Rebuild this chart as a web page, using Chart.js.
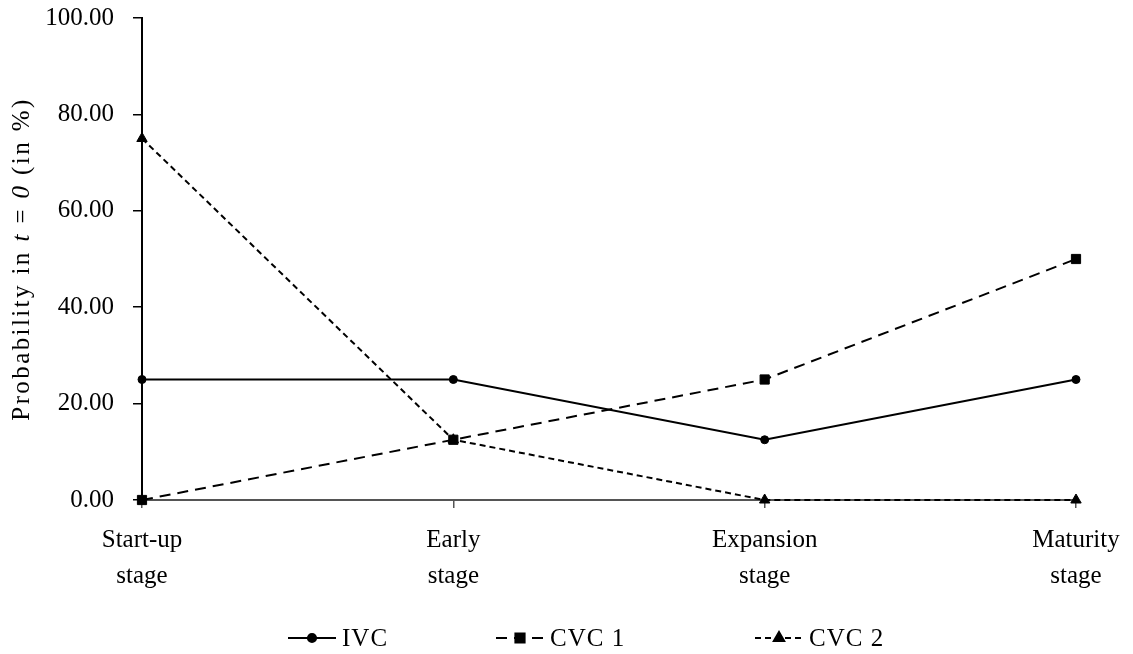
<!DOCTYPE html>
<html>
<head>
<meta charset="utf-8">
<script src="https://cdn.jsdelivr.net/npm/chart.js@4"></script>
<style>
html,body{margin:0;padding:0;background:#fff;}
#wrap{width:1133px;height:654px;}
</style>
</head>
<body>
<div id="wrap"><canvas id="c" width="1133" height="654"></canvas></div>
<script>
const categories = [["Start-up","stage"],["Early","stage"],["Expansion","stage"],["Maturity","stage"]];
const ivcValues = [25, 25, 12.5, 25];
const cvc1Values = [0, 12.5, 25, 50];
const cvc2Values = [75, 12.5, 0, 0];
const seriesNames = ["IVC", "CVC 1", "CVC 2"];
const yMin = 0, yMax = 100, yStep = 20;

const FONT = "'Liberation Serif', 'Times New Roman', serif";

const legendPlugin = {
  id: 'customLegend',
  afterDraw(chart) {
    const ctx = chart.ctx;
    const starts = [288, 496, 755];
    const y = 638;
    chart.data.datasets.forEach((ds, i) => {
      const x0 = starts[i];
      const x1 = x0 + 48;
      ctx.save();
      ctx.strokeStyle = ds.borderColor;
      ctx.lineWidth = ds.borderWidth;
      ctx.setLineDash(ds.borderDash || []);
      ctx.beginPath();
      ctx.moveTo(x0, y);
      ctx.lineTo(x1, y);
      ctx.stroke();
      ctx.setLineDash([]);
      Chart.helpers.drawPoint(ctx, {pointStyle: ds.pointStyle, radius: ds.pointRadius, rotation: 0, borderWidth: 1}, (x0 + x1) / 2, y);
      ctx.fillStyle = '#000';
      ctx.font = "25px " + FONT;
      try { ctx.letterSpacing = '1px'; } catch (e) {}
      ctx.textBaseline = 'middle';
      ctx.textAlign = 'left';
      ctx.fillText(ds.label, x1 + 6, y + 1);
      ctx.restore();
    });
  }
};

const yTitlePlugin = {
  id: 'yTitle',
  afterDraw(chart) {
    const ctx = chart.ctx;
    const area = chart.chartArea;
    const parts = [
      ["Probability in ", false],
      ["t", true],
      [" = ", false],
      ["0", true],
      [" (in %)", false]
    ];
    ctx.save();
    try { ctx.letterSpacing = '2.4px'; } catch (e) {}
    let total = 0;
    parts.forEach(p => {
      ctx.font = (p[1] ? "italic " : "") + "25px " + FONT;
      total += ctx.measureText(p[0]).width;
    });
    ctx.translate(22, (area.top + area.bottom) / 2);
    ctx.rotate(-Math.PI / 2);
    ctx.fillStyle = '#000';
    ctx.textBaseline = 'middle';
    ctx.textAlign = 'left';
    let x = -total / 2;
    parts.forEach(p => {
      ctx.font = (p[1] ? "italic " : "") + "25px " + FONT;
      ctx.fillText(p[0], x, 0);
      x += ctx.measureText(p[0]).width;
    });
    ctx.restore();
  }
};

new Chart(document.getElementById('c'), {
  type: 'line',
  data: {
    labels: categories,
    datasets: [
      {
        label: seriesNames[0], data: ivcValues,
        borderColor: '#000', backgroundColor: '#000', borderWidth: 2.2,
        pointStyle: 'circle', pointRadius: 4, pointBorderWidth: 1,
        pointBackgroundColor: '#000', pointBorderColor: '#000',
        tension: 0, clip: false
      },
      {
        label: seriesNames[1], data: cvc1Values,
        borderColor: '#000', backgroundColor: '#000', borderWidth: 2,
        borderDash: [11, 7],
        pointStyle: 'rect', pointRadius: 6.5, pointBorderWidth: 1,
        pointBackgroundColor: '#000', pointBorderColor: '#000',
        tension: 0, clip: false
      },
      {
        label: seriesNames[2], data: cvc2Values,
        borderColor: '#000', backgroundColor: '#000', borderWidth: 2,
        borderDash: [6, 4],
        pointStyle: 'triangle', pointRadius: 6, pointBorderWidth: 1,
        pointBackgroundColor: '#000', pointBorderColor: '#000',
        tension: 0, clip: false
      }
    ]
  },
  options: {
    responsive: false,
    animation: false,
    devicePixelRatio: 1,
    layout: { padding: { top: 18, right: 57, bottom: 59, left: 0 } },
    plugins: {
      legend: { display: false },
      tooltip: { enabled: false },
      title: { display: false }
    },
    scales: {
      x: {
        type: 'category',
        offset: false,
        afterFit(scale) { scale.height = 95; scale.paddingLeft = 0; scale.paddingRight = 0; },
        grid: { display: true, drawOnChartArea: false, drawTicks: true, tickLength: 8, color: '#555', lineWidth: 1.5 },
        border: { display: true, color: '#555', width: 2 },
        ticks: {
          color: '#000', padding: 14, maxRotation: 0, autoSkip: false,
          font: { family: FONT, size: 25, lineHeight: 1.45 }
        }
      },
      y: {
        min: yMin, max: yMax,
        afterFit(scale) { scale.width = 142; scale.paddingTop = 0; scale.paddingBottom = 0; },
        grid: { display: true, drawOnChartArea: false, drawTicks: true, tickLength: 9, color: '#000', lineWidth: 1.5 },
        border: { display: true, color: '#000', width: 2 },
        ticks: {
          stepSize: yStep, color: '#000', padding: 19,
          font: { family: FONT, size: 25 },
          callback: v => Number(v).toFixed(2)
        }
      }
    }
  },
  plugins: [legendPlugin, yTitlePlugin]
});
</script>
</body>
</html>
